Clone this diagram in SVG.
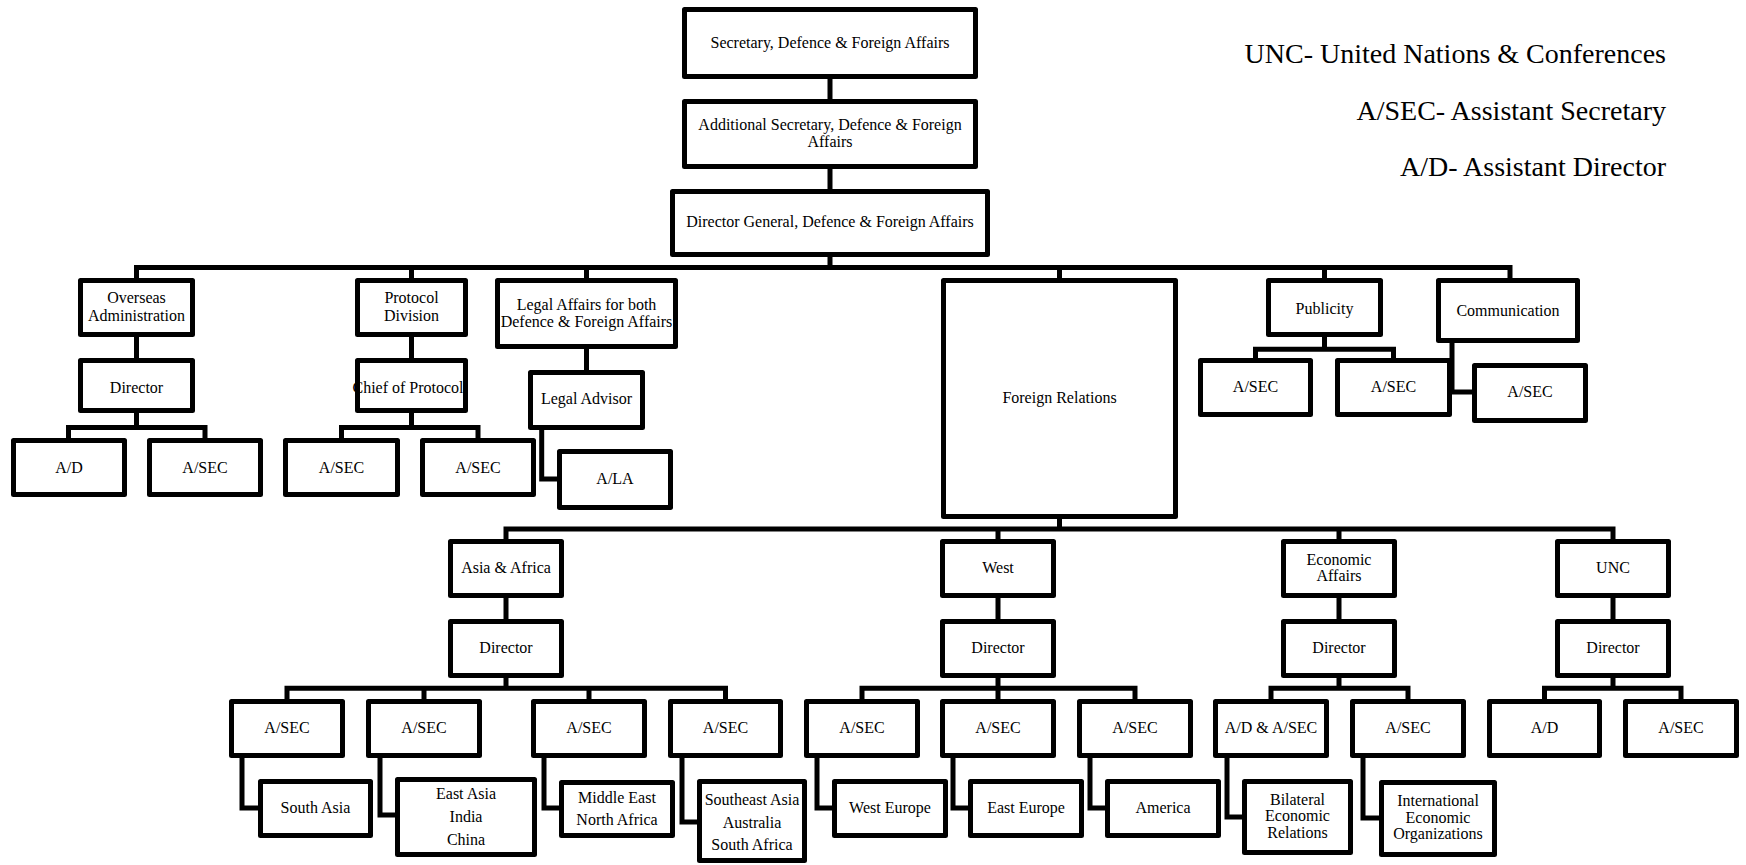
<svg xmlns="http://www.w3.org/2000/svg" width="1746" height="865" viewBox="0 0 1746 865">
<style>
  .b { fill: #fff; stroke: #000; stroke-width: 5; stroke-linejoin: round; }
  .t { font-family: 'Liberation Serif', 'DejaVu Serif', serif; font-size: 16px; fill: #000; text-anchor: middle; }
  .lg { font-family: 'Liberation Serif', 'DejaVu Serif', serif; font-size: 28px; fill: #000; text-anchor: end; }
  .c { fill: none; stroke: #000; stroke-width: 5; stroke-linejoin: miter; }
</style>
<rect x="0" y="0" width="1746" height="865" fill="#fff"/>

<g id="connectors">
  <path class="c" d="M830 79 V99 M830 169 V189 M830 257 V267.5"/>
  <path class="c" d="M136.5 278 V267.5 H1510 V278 M411.5 267.5 V278 M586.5 267.5 V278 M1059.5 267.5 V278 M1324.5 267.5 V278"/>
  <path class="c" d="M136.5 337 V358 M136.5 413 V427.5 M68.5 438 V427.5 H205 V438"/>
  <path class="c" d="M411.5 337 V358 M411.5 413 V427.5 M341.5 438 V427.5 H478 V438"/>
  <path class="c" d="M586.5 349 V370 M541.7 430 V479 H557"/>
  <path class="c" d="M1324.5 337 V349.3 M1255.5 358 V349.3 H1393.5 V358"/>
  <path class="c" d="M1452 343 V392 H1472"/>
  <path class="c" d="M1059.5 519 V529 M506 539 V529 H1613 V539 M998 529 V539 M1339 529 V539"/>
  <path class="c" d="M506 598 V619 M998 598 V619 M1339 598 V619 M1613 598 V619"/>
  <path class="c" d="M506 678 V688.3 M287 699 V688.3 H725.5 V699 M424 688.3 V699 M589 688.3 V699"/>
  <path class="c" d="M998 678 V699 M862 699 V688.3 H1135 V699"/>
  <path class="c" d="M1339 678 V688.3 M1271 699 V688.3 H1408 V699"/>
  <path class="c" d="M1613 678 V688.3 M1544.5 699 V688.3 H1681 V699"/>
  <path class="c" d="M242 758 V808 H258 M380 758 V815 H395 M544 758 V808 H559 M682 758 V822 H697"/>
  <path class="c" d="M817 758 V808 H832 M953 758 V808 H968 M1090 758 V808 H1105"/>
  <path class="c" d="M1227 758 V817 H1242 M1363 758 V818 H1379"/>
</g>

<g id="n-secretary"><rect class="b" x="684.5" y="9.5" width="291" height="67"/><text class="t" x="830" y="48">Secretary, Defence &amp; Foreign Affairs</text></g>
<g id="n-additional"><rect class="b" x="684.5" y="101.5" width="291" height="65"/><text class="t" x="830" y="130">Additional Secretary, Defence &amp; Foreign</text><text class="t" x="830" y="147">Affairs</text></g>
<g id="n-dg"><rect class="b" x="672.5" y="191.5" width="315" height="63"/><text class="t" x="830" y="227">Director General, Defence &amp; Foreign Affairs</text></g>

<g id="n-overseas"><rect class="b" x="80.5" y="280.5" width="112" height="54"/><text class="t" x="136.5" y="303">Overseas</text><text class="t" x="136.5" y="321">Administration</text></g>
<g id="n-protocol"><rect class="b" x="357.5" y="280.5" width="108" height="54"/><text class="t" x="411.5" y="303">Protocol</text><text class="t" x="411.5" y="321">Division</text></g>
<g id="n-legal"><rect class="b" x="497.5" y="280.5" width="178" height="66"/><text class="t" x="586.5" y="310">Legal Affairs for both</text><text class="t" x="586.5" y="327">Defence &amp; Foreign Affairs</text></g>
<g id="n-foreign"><rect class="b" x="943.5" y="280.5" width="232" height="236"/><text class="t" x="1059.5" y="403">Foreign Relations</text></g>
<g id="n-publicity"><rect class="b" x="1268.5" y="280.5" width="112" height="54"/><text class="t" x="1324.5" y="314">Publicity</text></g>
<g id="n-communication"><rect class="b" x="1438.5" y="280.5" width="139" height="60"/><text class="t" x="1508" y="316">Communication</text></g>

<g id="n-ov-director"><rect class="b" x="80.5" y="360.5" width="112" height="50"/><text class="t" x="136.5" y="393">Director</text></g>
<g id="n-chief-protocol"><rect class="b" x="357.5" y="360.5" width="108" height="50"/><text class="t" x="408" y="393">Chief of Protocol</text></g>
<g id="n-legal-advisor"><rect class="b" x="530.5" y="372.5" width="112" height="55"/><text class="t" x="586.5" y="404">Legal Advisor</text></g>
<g id="n-pub-asec1"><rect class="b" x="1200.5" y="360.5" width="110" height="54"/><text class="t" x="1255.5" y="392">A/SEC</text></g>
<g id="n-pub-asec2"><rect class="b" x="1337.5" y="360.5" width="112" height="54"/><text class="t" x="1393.5" y="392">A/SEC</text></g>
<g id="n-comm-asec"><rect class="b" x="1474.5" y="365.5" width="111" height="55"/><text class="t" x="1530" y="397">A/SEC</text></g>

<g id="n-ov-ad"><rect class="b" x="13.5" y="440.5" width="111" height="54"/><text class="t" x="69" y="473">A/D</text></g>
<g id="n-ov-asec"><rect class="b" x="149.5" y="440.5" width="111" height="54"/><text class="t" x="205" y="473">A/SEC</text></g>
<g id="n-pr-asec1"><rect class="b" x="285.5" y="440.5" width="112" height="54"/><text class="t" x="341.5" y="473">A/SEC</text></g>
<g id="n-pr-asec2"><rect class="b" x="422.5" y="440.5" width="111" height="54"/><text class="t" x="478" y="473">A/SEC</text></g>
<g id="n-ala"><rect class="b" x="559.5" y="451.5" width="111" height="56"/><text class="t" x="615" y="484">A/LA</text></g>

<g id="n-asia"><rect class="b" x="450.5" y="541.5" width="111" height="54"/><text class="t" x="506" y="573">Asia &amp; Africa</text></g>
<g id="n-west"><rect class="b" x="942.5" y="541.5" width="111" height="54"/><text class="t" x="998" y="573">West</text></g>
<g id="n-econ"><rect class="b" x="1283.5" y="541.5" width="111" height="54"/><text class="t" x="1339" y="565">Economic</text><text class="t" x="1339" y="581">Affairs</text></g>
<g id="n-unc"><rect class="b" x="1557.5" y="541.5" width="111" height="54"/><text class="t" x="1613" y="573">UNC</text></g>

<g id="n-asia-dir"><rect class="b" x="450.5" y="621.5" width="111" height="54"/><text class="t" x="506" y="653">Director</text></g>
<g id="n-west-dir"><rect class="b" x="942.5" y="621.5" width="111" height="54"/><text class="t" x="998" y="653">Director</text></g>
<g id="n-econ-dir"><rect class="b" x="1283.5" y="621.5" width="111" height="54"/><text class="t" x="1339" y="653">Director</text></g>
<g id="n-unc-dir"><rect class="b" x="1557.5" y="621.5" width="111" height="54"/><text class="t" x="1613" y="653">Director</text></g>

<g id="n-a-asec1"><rect class="b" x="231.5" y="701.5" width="111" height="54"/><text class="t" x="287" y="733">A/SEC</text></g>
<g id="n-a-asec2"><rect class="b" x="368.5" y="701.5" width="111" height="54"/><text class="t" x="424" y="733">A/SEC</text></g>
<g id="n-a-asec3"><rect class="b" x="533.5" y="701.5" width="111" height="54"/><text class="t" x="589" y="733">A/SEC</text></g>
<g id="n-a-asec4"><rect class="b" x="670.5" y="701.5" width="110" height="54"/><text class="t" x="725.5" y="733">A/SEC</text></g>
<g id="n-w-asec1"><rect class="b" x="806.5" y="701.5" width="111" height="54"/><text class="t" x="862" y="733">A/SEC</text></g>
<g id="n-w-asec2"><rect class="b" x="942.5" y="701.5" width="111" height="54"/><text class="t" x="998" y="733">A/SEC</text></g>
<g id="n-w-asec3"><rect class="b" x="1079.5" y="701.5" width="111" height="54"/><text class="t" x="1135" y="733">A/SEC</text></g>
<g id="n-e-adasec"><rect class="b" x="1215.5" y="701.5" width="111" height="54"/><text class="t" x="1271" y="733">A/D &amp; A/SEC</text></g>
<g id="n-e-asec"><rect class="b" x="1352.5" y="701.5" width="111" height="54"/><text class="t" x="1408" y="733">A/SEC</text></g>
<g id="n-u-ad"><rect class="b" x="1489.5" y="701.5" width="110" height="54"/><text class="t" x="1544.5" y="733">A/D</text></g>
<g id="n-u-asec"><rect class="b" x="1625.5" y="701.5" width="111" height="54"/><text class="t" x="1681" y="733">A/SEC</text></g>

<g id="n-south-asia"><rect class="b" x="260.5" y="781.5" width="110" height="54"/><text class="t" x="315.5" y="813">South Asia</text></g>
<g id="n-east-asia"><rect class="b" x="397.5" y="779.5" width="137" height="75"/><text class="t" x="466" y="799">East Asia</text><text class="t" x="466" y="822">India</text><text class="t" x="466" y="845">China</text></g>
<g id="n-middle-east"><rect class="b" x="561.5" y="782.5" width="111" height="53"/><text class="t" x="617" y="803">Middle East</text><text class="t" x="617" y="825">North Africa</text></g>
<g id="n-se-asia"><rect class="b" x="699.5" y="781.5" width="105" height="79"/><text class="t" x="752" y="805">Southeast Asia</text><text class="t" x="752" y="828">Australia</text><text class="t" x="752" y="850">South Africa</text></g>
<g id="n-west-europe"><rect class="b" x="834.5" y="781.5" width="111" height="54"/><text class="t" x="890" y="813">West Europe</text></g>
<g id="n-east-europe"><rect class="b" x="970.5" y="781.5" width="111" height="54"/><text class="t" x="1026" y="813">East Europe</text></g>
<g id="n-america"><rect class="b" x="1107.5" y="781.5" width="111" height="54"/><text class="t" x="1163" y="813">America</text></g>
<g id="n-bilateral"><rect class="b" x="1244.5" y="781.5" width="106" height="71"/><text class="t" x="1297.5" y="805">Bilateral</text><text class="t" x="1297.5" y="821">Economic</text><text class="t" x="1297.5" y="838">Relations</text></g>
<g id="n-international"><rect class="b" x="1381.5" y="782.5" width="113" height="72"/><text class="t" x="1438" y="806">International</text><text class="t" x="1438" y="823">Economic</text><text class="t" x="1438" y="839">Organizations</text></g>

<g id="legend">
  <text class="lg" x="1666" y="63">UNC- United Nations &amp; Conferences</text>
  <text class="lg" x="1666" y="120">A/SEC- Assistant Secretary</text>
  <text class="lg" x="1666" y="176">A/D- Assistant Director</text>
</g>
</svg>
